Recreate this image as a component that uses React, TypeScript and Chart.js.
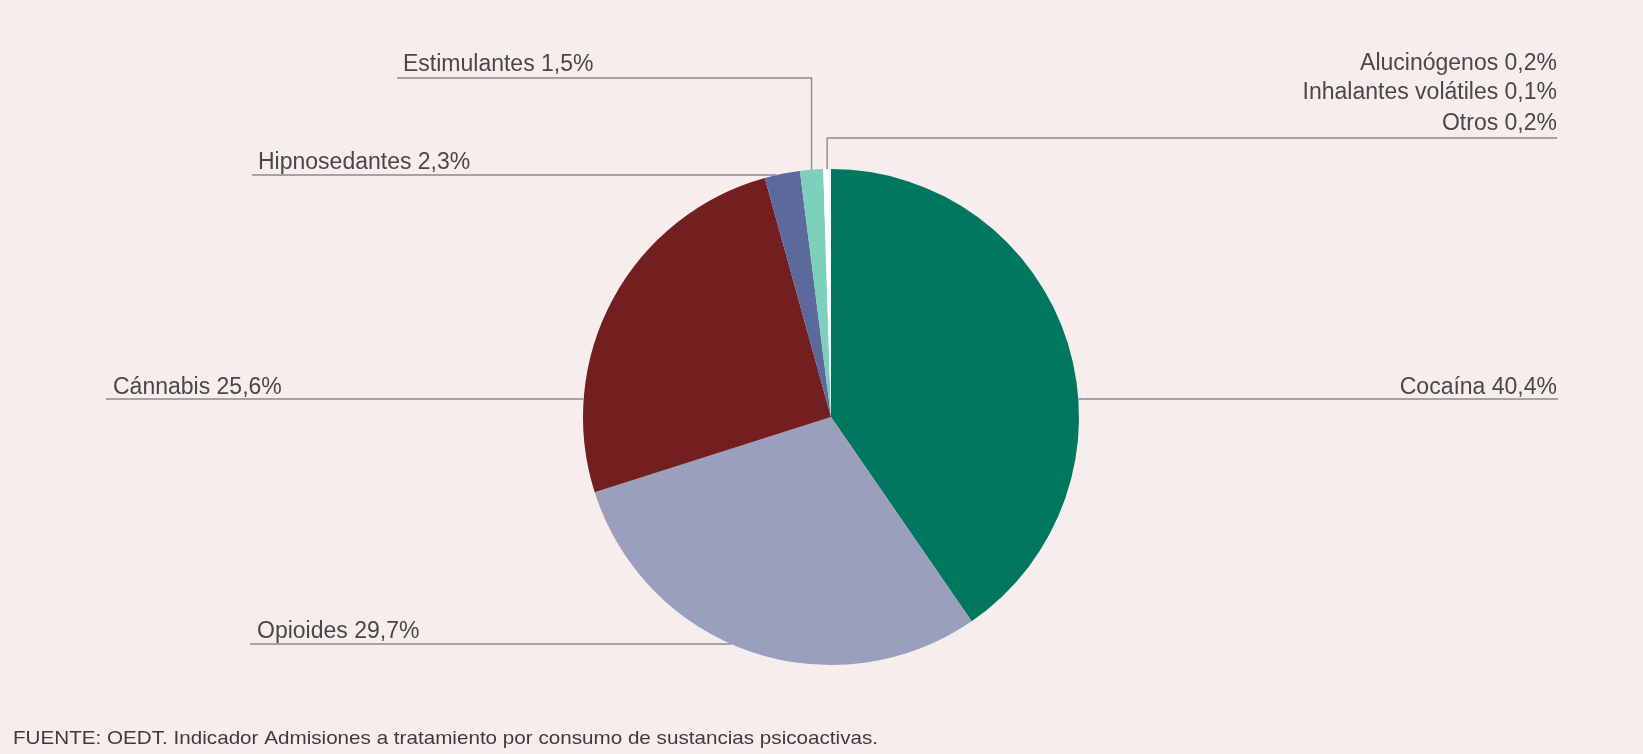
import React, { useEffect, useRef } from "react";
import { Chart, registerables } from "chart.js";

Chart.register(...registerables);

// ---- data ----
const categories = [
  "Cocaína",
  "Opioides",
  "Cánnabis",
  "Hipnosedantes",
  "Estimulantes",
  "Alucinógenos",
  "Inhalantes volátiles",
  "Otros",
];
const shares = [40.4, 29.7, 25.6, 2.3, 1.5, 0.2, 0.1, 0.2];
const sliceColors = [
  "#00775f",
  "#9a9fbe",
  "#731f20",
  "#5b6a9b",
  "#7dd0bb",
  "#ffffff",
  "#ffffff",
  "#ffffff",
];
const sourceNote =
  "FUENTE: OEDT. Indicador Admisiones a tratamiento por consumo de sustancias psicoactivas.";

// ---- callout layout (positions only, no data) ----
type Callout = {
  slices: number[];
  mode: "h" | "v";
  side: "left" | "right";
  lineY: number;
  outerX: number;
  textX: number;
  baselines: number[];
};
const callouts: Callout[] = [
  { slices: [0], mode: "h", side: "right", lineY: 399, outerX: 1558, textX: 1557, baselines: [394] },
  { slices: [1], mode: "h", side: "left", lineY: 644, outerX: 250, textX: 257, baselines: [638] },
  { slices: [2], mode: "h", side: "left", lineY: 399, outerX: 106, textX: 113, baselines: [394] },
  { slices: [3], mode: "h", side: "left", lineY: 175, outerX: 252, textX: 258, baselines: [169] },
  { slices: [4], mode: "v", side: "left", lineY: 78, outerX: 397, textX: 403, baselines: [71] },
  { slices: [5, 6, 7], mode: "v", side: "right", lineY: 138, outerX: 1557, textX: 1557, baselines: [70, 99, 130] },
];

const BG = "#f7eded";
const LINE = "#8e8a8a";
const TEXT = "#484848";
const FONT = '"Liberation Sans", Arial, sans-serif';

const fmt = (v: number) => v.toFixed(1).replace(".", ",") + "%";

const calloutPlugin = {
  id: "callouts",
  beforeDraw(chart: any) {
    const { ctx, width, height } = chart;
    ctx.save();
    ctx.fillStyle = BG;
    ctx.fillRect(0, 0, width, height);
    ctx.restore();
  },
  afterDraw(chart: any) {
    const { ctx } = chart;
    const meta = chart.getDatasetMeta(0);
    const a0 = meta.data[0];
    const { x: cx, y: cy, outerRadius: r } = a0.getProps(["x", "y", "outerRadius"], true);
    ctx.save();
    ctx.strokeStyle = LINE;
    ctx.lineWidth = 1.4;
    ctx.fillStyle = TEXT;
    ctx.font = `23px ${FONT}`;
    ctx.textBaseline = "alphabetic";
    for (const c of callouts) {
      ctx.beginPath();
      if (c.mode === "h") {
        const dy = c.lineY - cy;
        const dx = Math.sqrt(Math.max(r * r - dy * dy, 0));
        const px = c.side === "left" ? cx - dx : cx + dx;
        ctx.moveTo(c.outerX, c.lineY);
        ctx.lineTo(px, c.lineY);
      } else {
        const first = meta.data[c.slices[0]].getProps(["startAngle"], true).startAngle;
        const last = meta.data[c.slices[c.slices.length - 1]].getProps(["endAngle"], true).endAngle;
        const mid = (first + last) / 2;
        const ax = cx + r * Math.cos(mid);
        const ay = cy + r * Math.sin(mid);
        ctx.moveTo(c.outerX, c.lineY);
        ctx.lineTo(ax, c.lineY);
        ctx.lineTo(ax, ay);
      }
      ctx.stroke();
      ctx.textAlign = c.side === "left" ? "left" : "right";
      c.slices.forEach((i, k) => {
        ctx.fillText(`${categories[i]} ${fmt(shares[i])}`, c.textX, c.baselines[k]);
      });
    }
    // source note, fitted to its width in the reference
    ctx.font = `19px ${FONT}`;
    ctx.textAlign = "left";
    ctx.fillStyle = "#3c3c3c";
    const w = ctx.measureText(sourceNote).width;
    ctx.translate(13, 744);
    ctx.scale(865 / w, 1);
    ctx.fillText(sourceNote, 0, 0);
    ctx.restore();
  },
};

export default function App() {
  const ref = useRef<HTMLCanvasElement | null>(null);
  useEffect(() => {
    document.body.style.margin = "0";
    document.body.style.background = BG;
    const chart = new Chart(ref.current as HTMLCanvasElement, {
      type: "pie",
      data: {
        labels: categories,
        datasets: [
          {
            data: shares,
            backgroundColor: sliceColors,
            borderWidth: 0,
          },
        ],
      },
      options: {
        animation: false,
        responsive: false,
        layout: { padding: { left: 583, right: 564, top: 169, bottom: 89 } },
        plugins: {
          legend: { display: false },
          tooltip: { enabled: false },
        },
      },
      plugins: [calloutPlugin],
    });
    return () => chart.destroy();
  }, []);
  return (
    <div style={{ position: "fixed", left: 0, top: 0, width: 1643, height: 754, background: BG }}>
      <canvas ref={ref} width={1643} height={754} style={{ display: "block" }} />
    </div>
  );
}
